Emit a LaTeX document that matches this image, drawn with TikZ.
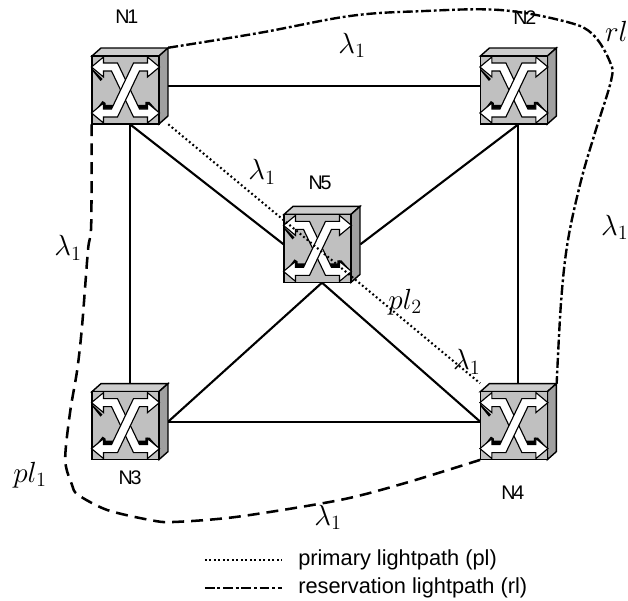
\documentclass[tikz,border=0pt]{standalone}
\usepackage{fontspec}
\setmainfont{Liberation Sans}
\usetikzlibrary{positioning}
\definecolor{FaceGray}{RGB}{192,192,192}
\definecolor{TopGray}{RGB}{205,205,205}
\definecolor{SideGray}{RGB}{160,160,160}
\newcommand{\lamlabel}{$\lambda_1$}
\begin{document}
\begin{tikzpicture}[font=\fontsize{15.5}{17}\selectfont]
    \tikzset{
        oxcbox/.style={rectangle, inner sep=0pt, minimum width=1.9cm, minimum height=1.9cm},
        nodename/.style={inner sep=0pt, font=\fontsize{14}{16}\selectfont},
        fibre/.style={line width=1.5pt},
        primary/.style={line width=1.5pt, dash pattern=on 1.3pt off 1.9pt},
        backup/.style={line width=1.8pt, dash pattern=on 8.5pt off 5pt},
        reserve/.style={line width=1.7pt, dash pattern=on 7pt off 2pt on 2pt off 2pt},
        pathlabel/.style={inner sep=0pt, font=\fontsize{20}{22}\selectfont},
        legendtext/.style={anchor=west, inner sep=0pt},
        crossconnect/.pic={
            \begin{scope}[x=0.025cm, y=-0.025cm, line width=1pt, line join=miter]
                \filldraw[fill=TopGray] (-38,-30) -- (-29,-38) -- (38,-38) -- (29,-30) -- cycle;
                \filldraw[fill=SideGray] (29,-30) -- (38,-38) -- (38,30) -- (29,38) -- cycle;
                \filldraw[fill=FaceGray] (-38,-30) rectangle (29,38);
                \begin{scope}[shift={(-4.5,4)}]
                    % heavy edges under the arms
                    \fill (-33,24) -- (-23,11) -- (-20,13) -- (-20,15) -- (-8,15) -- (-8,21) -- (-22,21) -- cycle;
                    \fill (8,15) -- (20,15) -- (20,12) -- (24,12) -- (33,22) -- (22,21) -- (8,21) -- cycle;
                    \fill (-33,-21) -- (-23,-11) -- (-25,-9) -- (-33,-19) -- cycle;
                    \fill (-15,-20) -- (-9,-22) -- (-1,-6) -- (-4,-2) -- cycle;
                    \foreach \side in {1,-1} {
                        \filldraw[fill=white, xscale=\side, line width=0.8pt]
                            (-34,-23) -- (-22,-33) -- (-22,-27) -- (-8,-27) -- (14,19) -- (22,19)
                            -- (22,13) -- (34,23) -- (22,33) -- (22,27) -- (8,27) -- (-14,-19)
                            -- (-22,-19) -- (-22,-13) -- cycle;
                    }
                \end{scope}
            \end{scope}
        }
    }
    \useasboundingbox (0,0) rectangle (15.7,15);
    % switching nodes
    \node[oxcbox] (N1) at (3.25,12.85) {};
    \node[oxcbox] (N2) at (12.96,12.85) {};
    \node[oxcbox] (N3) at (3.25,4.46) {};
    \node[oxcbox] (N4) at (12.96,4.46) {};
    \node[oxcbox] (N5) at (8.05,8.89) {};
    % physical links
    \draw[fibre] (N1) -- (N2);
    \draw[fibre] (N3) -- (N4);
    \draw[fibre] (N1) -- (N3);
    \draw[fibre] (N2) -- (N4);
    \draw[fibre] (N1.south) -- (N5.west);
    \draw[fibre] (N5.east) -- (N2.south);
    \draw[fibre] (N3.east) -- (N5.south);
    \draw[fibre] (N5.south) -- (N4.west);
    \foreach \name in {N1,N2,N3,N4,N5}
        \pic at (\name) {crossconnect};
    % lightpaths
    \draw[primary] (N1.south east) -- (N4.north west);
    \draw[backup] plot[smooth, tension=0.5] coordinates {(N1.south west) (2.28,9.38) (2.2,8.75)
        (2.05,6.83) (1.93,5.75) (1.75,4.68) (1.63,3.5) (1.8,2.88) (1.95,2.63) (2.68,2.25)
        (3.75,2.0) (4.33,1.95) (5.93,2.08) (8.5,2.5) (10.15,2.93) (N4.south west)};
    \draw[reserve] plot[smooth, tension=0.6] coordinates {(N1.north east) (6.5,14.18) (8.75,14.6)
        (10.5,14.72) (12.5,14.75) (14.18,14.45) (14.83,14.13) (15.25,13.45) (15.28,13)
        (14.88,11.7) (14.53,10.5) (14.2,9) (14.03,7.5) (N4.north east)};
    % names
    \node[nodename] (nameA) at (3.17,14.57) {N\kern-1.6pt 1};
    \node[nodename] (nameB) at (13.12,14.57) {N\kern-1.6pt 2};
    \node[nodename] (nameC) at (3.25,3.05) {N\kern-1.6pt 3};
    \node[nodename] (nameD) at (12.82,2.68) {N\kern-1.6pt 4};
    \node[nodename] (nameE) at (8.0,10.42) {N\kern-1.6pt 5};
    % wavelengths and path names
    \node[pathlabel] (lamtop) at (8.8,13.87) {\lamlabel};
    \node[pathlabel] (lammid) at (6.55,10.7) {\lamlabel};
    \node[pathlabel] (lamleft) at (1.7,8.8) {\lamlabel};
    \node[pathlabel] (lamlow) at (8.2,2.07) {\lamlabel};
    \node[pathlabel] (lamright) at (15.37,9.32) {\lamlabel};
    \node[pathlabel] (lamnear) at (11.67,5.95) {\lamlabel};
    \node[pathlabel] (plone) at (0.75,3.12) {$pl_1$};
    \node[pathlabel] (pltwo) at (10.13,7.45) {$pl_2$};
    \node[pathlabel, anchor=west] (rlone) at (15.12,14.17) {$rl_1$};
    % legend
    \coordinate (legdots) at (5.12,1);
    \coordinate (legdash) at (5.12,0.3);
    \node[legendtext] (legprimary) at (7.45,1) {primary lightpath (pl)};
    \node[legendtext] (legreserve) at (7.45,0.3) {reservation lightpath (rl)};
    \draw[primary, line width=1pt, shorten >=0.4cm] (legdots) -- (legprimary.west);
    \draw[reserve, line width=1pt, shorten >=0.4cm] (legdash) -- (legreserve.west);
\end{tikzpicture}
\end{document}
